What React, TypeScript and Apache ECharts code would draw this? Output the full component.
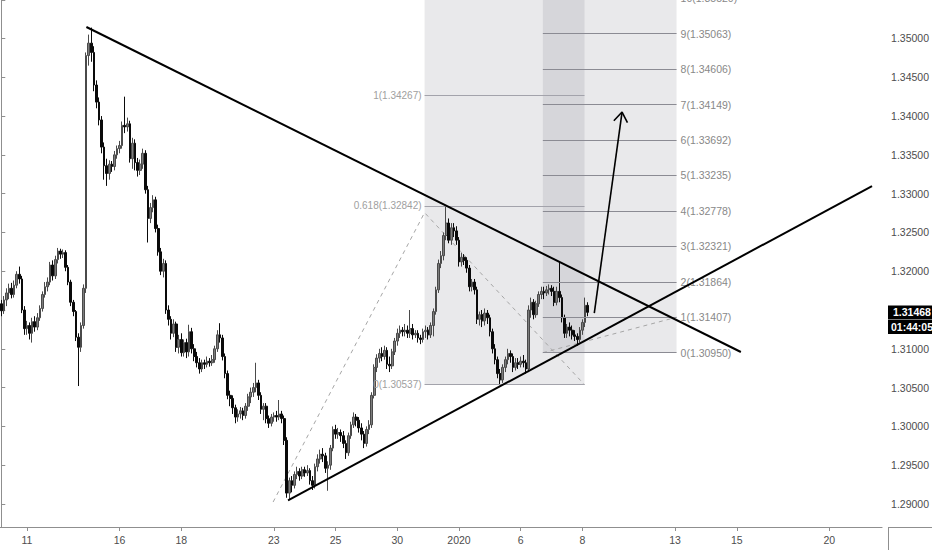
import React, { useEffect, useRef } from 'react';
import * as echarts from 'echarts';

// ---- axis set-up -------------------------------------------------------
const SLOTS = 343; // 2-hour bar slots from 10 Dec 2019 to 21 Jan 2020
const Y_MIN = 1.28703;
const Y_MAX = 1.35496;
const dayTickSlots = [10, 46, 70, 106, 130, 154, 178, 202, 226, 262, 286, 322];
const dayTickLabels = ['11', '16', '18', '23', '25', '30', '2020', '6', '8', '13', '15', '20'];

// ---- candles: [open, close, low, high] ---------------------------------
const candles: number[][] = [
  [1.3158, 1.3149, 1.3142, 1.3163], [1.3149, 1.3163, 1.3145, 1.3168], [1.3163, 1.3172, 1.3155, 1.3178],
  [1.3172, 1.3178, 1.3164, 1.3184], [1.3178, 1.3170, 1.3165, 1.3185], [1.3170, 1.3182, 1.3166, 1.3188],
  [1.3182, 1.3196, 1.3178, 1.3200], [1.3196, 1.3190, 1.3184, 1.3206], [1.3190, 1.3150, 1.3146, 1.3194],
  [1.3150, 1.3126, 1.3118, 1.3155], [1.3126, 1.3130, 1.3118, 1.3136], [1.3130, 1.3120, 1.3112, 1.3134],
  [1.3120, 1.3135, 1.3108, 1.3140], [1.3135, 1.3128, 1.3122, 1.3142], [1.3128, 1.3140, 1.3124, 1.3146],
  [1.3140, 1.3152, 1.3136, 1.3156], [1.3152, 1.3170, 1.3148, 1.3174], [1.3170, 1.3180, 1.3166, 1.3186],
  [1.3180, 1.3186, 1.3174, 1.3192], [1.3186, 1.3208, 1.3182, 1.3212], [1.3208, 1.3194, 1.3188, 1.3214],
  [1.3194, 1.3215, 1.3190, 1.3220], [1.3215, 1.3226, 1.3210, 1.3230], [1.3226, 1.3222, 1.3216, 1.3229],
  [1.3222, 1.3224, 1.3217, 1.3228], [1.3224, 1.3205, 1.3200, 1.3227], [1.3205, 1.3186, 1.3182, 1.3208],
  [1.3186, 1.3160, 1.3155, 1.3189], [1.3160, 1.3148, 1.3142, 1.3163], [1.3148, 1.3115, 1.3110, 1.3150],
  [1.3115, 1.3102, 1.3052, 1.3120], [1.3102, 1.3130, 1.3096, 1.3134], [1.3130, 1.3178, 1.3126, 1.3183],
  [1.3178, 1.3478, 1.3172, 1.3482], [1.3478, 1.3494, 1.3465, 1.3505], [1.3494, 1.3482, 1.3470, 1.3514],
  [1.3482, 1.3440, 1.3432, 1.3490], [1.3440, 1.3418, 1.3410, 1.3446], [1.3418, 1.3395, 1.3388, 1.3424],
  [1.3395, 1.3360, 1.3352, 1.3400], [1.3360, 1.3336, 1.3318, 1.3366], [1.3336, 1.3326, 1.3310, 1.3345],
  [1.3326, 1.3338, 1.3318, 1.3343], [1.3338, 1.3335, 1.3328, 1.3342], [1.3335, 1.3350, 1.3330, 1.3355],
  [1.3350, 1.3358, 1.3345, 1.3362], [1.3358, 1.3362, 1.3352, 1.3368], [1.3362, 1.3388, 1.3358, 1.3393],
  [1.3388, 1.3386, 1.3378, 1.3425], [1.3386, 1.3390, 1.3380, 1.3398], [1.3390, 1.3345, 1.3340, 1.3394],
  [1.3345, 1.3365, 1.3332, 1.3372], [1.3365, 1.3340, 1.3330, 1.3370], [1.3340, 1.3330, 1.3322, 1.3346],
  [1.3330, 1.3338, 1.3324, 1.3344], [1.3338, 1.3352, 1.3332, 1.3358], [1.3352, 1.3305, 1.3300, 1.3356],
  [1.3305, 1.3268, 1.3237, 1.3310], [1.3268, 1.3282, 1.3262, 1.3288], [1.3282, 1.3292, 1.3276, 1.3298],
  [1.3292, 1.3255, 1.3250, 1.3296], [1.3255, 1.3225, 1.3220, 1.3260], [1.3225, 1.3200, 1.3195, 1.3230],
  [1.3200, 1.3210, 1.3192, 1.3216], [1.3210, 1.3150, 1.3145, 1.3214], [1.3150, 1.3138, 1.3130, 1.3156],
  [1.3138, 1.3120, 1.3112, 1.3142], [1.3120, 1.3132, 1.3115, 1.3138], [1.3132, 1.3102, 1.3096, 1.3135],
  [1.3102, 1.3112, 1.3094, 1.3118], [1.3112, 1.3095, 1.3090, 1.3120], [1.3095, 1.3108, 1.3090, 1.3112],
  [1.3108, 1.3096, 1.3088, 1.3113], [1.3096, 1.3122, 1.3090, 1.3131], [1.3122, 1.3100, 1.3094, 1.3127],
  [1.3100, 1.3090, 1.3084, 1.3106], [1.3090, 1.3082, 1.3076, 1.3096], [1.3082, 1.3074, 1.3068, 1.3088],
  [1.3074, 1.3082, 1.3070, 1.3086], [1.3082, 1.3080, 1.3074, 1.3086], [1.3080, 1.3084, 1.3076, 1.3090],
  [1.3084, 1.3082, 1.3077, 1.3088], [1.3082, 1.3086, 1.3078, 1.3092], [1.3086, 1.3100, 1.3082, 1.3104],
  [1.3100, 1.3118, 1.3096, 1.3124], [1.3118, 1.3114, 1.3108, 1.3133], [1.3114, 1.3090, 1.3085, 1.3118],
  [1.3090, 1.3068, 1.3062, 1.3094], [1.3068, 1.3040, 1.3035, 1.3072], [1.3040, 1.3036, 1.3026, 1.3046],
  [1.3036, 1.3024, 1.3016, 1.3040], [1.3024, 1.3012, 1.3004, 1.3028], [1.3012, 1.3016, 1.3006, 1.3022],
  [1.3016, 1.3020, 1.3010, 1.3025], [1.3020, 1.3014, 1.3008, 1.3024], [1.3014, 1.3026, 1.3010, 1.3030],
  [1.3026, 1.3038, 1.3020, 1.3042], [1.3038, 1.3044, 1.3030, 1.3050], [1.3044, 1.3050, 1.3038, 1.3056],
  [1.3050, 1.3056, 1.3044, 1.3082], [1.3056, 1.3040, 1.3034, 1.3060], [1.3040, 1.3022, 1.3016, 1.3044],
  [1.3022, 1.3026, 1.3008, 1.3030], [1.3026, 1.3010, 1.3004, 1.3030], [1.3010, 1.3004, 1.2998, 1.3014],
  [1.3004, 1.3012, 1.3000, 1.3016], [1.3012, 1.3014, 1.3006, 1.3018], [1.3014, 1.3012, 1.3006, 1.3020],
  [1.3012, 1.3016, 1.3008, 1.3034], [1.3016, 1.3010, 1.3004, 1.3020], [1.3010, 1.2982, 1.2976, 1.3014],
  [1.2982, 1.2914, 1.2908, 1.2986], [1.2914, 1.2930, 1.2905, 1.2934], [1.2930, 1.2924, 1.2915, 1.2936],
  [1.2924, 1.2938, 1.2920, 1.2942], [1.2938, 1.2942, 1.2932, 1.2948], [1.2942, 1.2936, 1.2930, 1.2946],
  [1.2936, 1.2944, 1.2932, 1.2948], [1.2944, 1.2940, 1.2935, 1.2948], [1.2940, 1.2943, 1.2936, 1.2950],
  [1.2943, 1.2930, 1.2925, 1.2946], [1.2930, 1.2924, 1.2918, 1.2936], [1.2924, 1.2948, 1.2920, 1.2952],
  [1.2948, 1.2958, 1.2942, 1.2964], [1.2958, 1.2964, 1.2952, 1.2970], [1.2964, 1.2962, 1.2954, 1.2972],
  [1.2962, 1.2946, 1.2940, 1.2966], [1.2946, 1.2950, 1.2917, 1.2955], [1.2950, 1.2972, 1.2944, 1.2976],
  [1.2972, 1.2996, 1.2968, 1.3000], [1.2996, 1.2990, 1.2984, 1.3002], [1.2990, 1.2992, 1.2984, 1.2998],
  [1.2992, 1.2988, 1.2980, 1.2996], [1.2988, 1.2978, 1.2972, 1.2994], [1.2978, 1.2966, 1.2958, 1.2982],
  [1.2966, 1.2988, 1.2962, 1.2992], [1.2988, 1.3002, 1.2984, 1.3006], [1.3002, 1.3012, 1.2998, 1.3018],
  [1.3012, 1.3008, 1.3000, 1.3016], [1.3008, 1.2998, 1.2992, 1.3012], [1.2998, 1.2990, 1.2982, 1.3004],
  [1.2990, 1.2978, 1.2972, 1.2994], [1.2978, 1.2996, 1.2974, 1.3000], [1.2996, 1.3002, 1.2990, 1.3008],
  [1.3002, 1.3040, 1.2998, 1.3044], [1.3040, 1.3076, 1.3036, 1.3080], [1.3076, 1.3088, 1.3070, 1.3093],
  [1.3088, 1.3094, 1.3082, 1.3100], [1.3094, 1.3090, 1.3084, 1.3102], [1.3090, 1.3098, 1.3086, 1.3104],
  [1.3098, 1.3080, 1.3074, 1.3102], [1.3080, 1.3078, 1.3070, 1.3090], [1.3078, 1.3096, 1.3074, 1.3100],
  [1.3096, 1.3110, 1.3092, 1.3114], [1.3110, 1.3120, 1.3104, 1.3126], [1.3120, 1.3124, 1.3114, 1.3130],
  [1.3124, 1.3122, 1.3116, 1.3128], [1.3122, 1.3124, 1.3116, 1.3132], [1.3124, 1.3120, 1.3114, 1.3130],
  [1.3120, 1.3126, 1.3114, 1.3150], [1.3126, 1.3118, 1.3112, 1.3132], [1.3118, 1.3120, 1.3114, 1.3124],
  [1.3120, 1.3114, 1.3108, 1.3124], [1.3114, 1.3112, 1.3106, 1.3118], [1.3112, 1.3122, 1.3108, 1.3126],
  [1.3122, 1.3124, 1.3114, 1.3130], [1.3124, 1.3118, 1.3112, 1.3128], [1.3118, 1.3130, 1.3114, 1.3134],
  [1.3130, 1.3148, 1.3116, 1.3152], [1.3148, 1.3176, 1.3144, 1.3180], [1.3176, 1.3210, 1.3172, 1.3215],
  [1.3210, 1.3220, 1.3204, 1.3226], [1.3220, 1.3246, 1.3214, 1.3250], [1.3246, 1.3262, 1.3240, 1.3284],
  [1.3262, 1.3240, 1.3236, 1.3268], [1.3240, 1.3256, 1.3234, 1.3262], [1.3256, 1.3252, 1.3244, 1.3262],
  [1.3252, 1.3240, 1.3234, 1.3258], [1.3240, 1.3212, 1.3206, 1.3244], [1.3212, 1.3218, 1.3206, 1.3224],
  [1.3218, 1.3214, 1.3208, 1.3222], [1.3214, 1.3204, 1.3198, 1.3218], [1.3204, 1.3180, 1.3174, 1.3208],
  [1.3180, 1.3186, 1.3174, 1.3190], [1.3186, 1.3176, 1.3170, 1.3190], [1.3176, 1.3138, 1.3132, 1.3180],
  [1.3138, 1.3144, 1.3130, 1.3148], [1.3144, 1.3136, 1.3128, 1.3150], [1.3136, 1.3146, 1.3130, 1.3152],
  [1.3146, 1.3140, 1.3132, 1.3150], [1.3140, 1.3122, 1.3116, 1.3144], [1.3122, 1.3100, 1.3094, 1.3126],
  [1.3100, 1.3086, 1.3080, 1.3106], [1.3086, 1.3068, 1.3062, 1.3090], [1.3068, 1.3060, 1.3053, 1.3074],
  [1.3060, 1.3076, 1.3056, 1.3080], [1.3076, 1.3086, 1.3070, 1.3090], [1.3086, 1.3094, 1.3080, 1.3100],
  [1.3094, 1.3090, 1.3082, 1.3098], [1.3090, 1.3076, 1.3070, 1.3094], [1.3076, 1.3082, 1.3072, 1.3088],
  [1.3082, 1.3080, 1.3074, 1.3088], [1.3080, 1.3084, 1.3076, 1.3090], [1.3084, 1.3082, 1.3076, 1.3092],
  [1.3082, 1.3074, 1.3068, 1.3086], [1.3074, 1.3150, 1.3070, 1.3156], [1.3150, 1.3160, 1.3140, 1.3166],
  [1.3160, 1.3144, 1.3138, 1.3164], [1.3144, 1.3158, 1.3140, 1.3162], [1.3158, 1.3170, 1.3154, 1.3174],
  [1.3170, 1.3174, 1.3164, 1.3180], [1.3174, 1.3172, 1.3164, 1.3180], [1.3172, 1.3176, 1.3168, 1.3181],
  [1.3176, 1.3178, 1.3170, 1.3183], [1.3178, 1.3174, 1.3168, 1.3182], [1.3174, 1.3160, 1.3155, 1.3180],
  [1.3160, 1.3174, 1.3156, 1.3180], [1.3174, 1.3166, 1.3160, 1.3213], [1.3166, 1.3140, 1.3134, 1.3170],
  [1.3140, 1.3120, 1.3114, 1.3144], [1.3120, 1.3128, 1.3114, 1.3132], [1.3128, 1.3124, 1.3116, 1.3134],
  [1.3124, 1.3118, 1.3112, 1.3130], [1.3118, 1.3116, 1.3110, 1.3124], [1.3116, 1.3112, 1.3104, 1.3120],
  [1.3112, 1.3124, 1.3108, 1.3128], [1.3124, 1.3134, 1.3118, 1.3138], [1.3134, 1.3156, 1.3128, 1.3166],
  [1.3156, 1.3147, 1.3142, 1.3160],
];

const lastPrice = 1.31468;
const countdownText = '01:44:05';

// ---- drawings, in [slot, price] ------------------------------------------
const downTrendLine = [[33.1, 1.35148], [287.6, 1.30959]];
const upTrendLine = [[111.5, 1.29045], [338.6, 1.33098]];
const arrowShaft = [[230.6, 1.31461], [241.4, 1.34052]];
const arrowHead = [[238.2, 1.33939], [241.4, 1.34052], [243.5, 1.33914]];
const fibPathLeft = [[105.7, 1.29025], [164.6, 1.32755], [226.8, 1.30537]];
const fibPathRight = [[210.6, 1.3095], [262.6, 1.31407]];

const leftFibRatios = ['0', '0.618', '1'];
const leftFibPrices = [1.30537, 1.32842, 1.34267];
const leftFibSpan = [164.6, 226.8];

const rightFibRatios = ['0', '1', '2', '3', '4', '5', '6', '7', '8', '9', '10'];
const rightFibPrices = [1.3095, 1.31407, 1.31864, 1.32321, 1.32778, 1.33235, 1.33692, 1.34149, 1.34606, 1.35063, 1.3552];
const rightFibSpan = [210.6, 262.6];

const FONT = "'Liberation Sans', Arial, sans-serif";

export default function App() {
  const ref = useRef<HTMLDivElement>(null);

  useEffect(() => {
    document.body.style.margin = '0';
    const chart = echarts.init(ref.current as HTMLDivElement, null, { renderer: 'svg' });

    const categories = Array.from({ length: SLOTS }, (_, i) => String(i));
    const labelBySlot: Record<number, string> = {};
    dayTickSlots.forEach((s, i) => {
      labelBySlot[s] = dayTickLabels[i];
    });
    const isTick = (i: number) => labelBySlot[i] !== undefined;

    const lineSeries = (data: number[][], color: string, width: number, type: any, z: number, extra: any = {}) => ({
      type: 'line',
      xAxisIndex: 1,
      yAxisIndex: 0,
      data,
      symbol: 'none',
      silent: true,
      z,
      lineStyle: { color, width, type },
      ...extra,
    });

    const leftLevelLines = leftFibPrices.map((p, i) => [
      { name: `${leftFibRatios[i]}(${p.toFixed(5)})`, coord: [leftFibSpan[0], p] },
      { coord: [leftFibSpan[1], p] },
    ]);
    const rightLevelLines = rightFibPrices
      .filter((p) => p <= Y_MAX)
      .map((p, i) => [
        { name: `${rightFibRatios[i]}(${p.toFixed(5)})`, coord: [rightFibSpan[0], p] },
        { coord: [rightFibSpan[1], p] },
      ]);

    const option: any = {
      animation: false,
      backgroundColor: '#ffffff',
      grid: { left: 0, top: 0, width: 888, height: 527, containLabel: false },
      xAxis: [
        {
          type: 'category',
          data: categories,
          boundaryGap: true,
          axisLine: { show: true, lineStyle: { color: '#8f8f8f', width: 1 } },
          axisTick: { show: true, interval: (i: number) => isTick(i), alignWithLabel: true, length: 4, lineStyle: { color: '#8f8f8f' } },
          axisLabel: {
            interval: (i: number) => isTick(i),
            formatter: (v: string) => labelBySlot[Number(v)] ?? '',
            color: '#4d4d4d',
            fontSize: 10.5,
            fontFamily: FONT,
            margin: 7,
          },
          splitLine: { show: false },
        },
        { type: 'value', min: -0.5, max: SLOTS - 0.5, show: false },
      ],
      yAxis: [
        {
          type: 'value',
          position: 'right',
          min: Y_MIN,
          max: Y_MAX,
          splitNumber: 14,
          axisLine: { show: true, lineStyle: { color: '#8f8f8f', width: 1 } },
          axisTick: { show: true, length: 4, lineStyle: { color: '#8f8f8f' } },
          axisLabel: {
            formatter: (v: number) => {
              const k = v / 0.005;
              const onStep = Math.abs(k - Math.round(k)) < 1e-6;
              const underPriceTag = Math.abs(v - lastPrice) < 0.0012;
              return onStep && !underPriceTag ? v.toFixed(5) : '';
            },
            color: '#4d4d4d',
            fontSize: 10.5,
            fontFamily: FONT,
            margin: 9,
          },
          splitLine: { show: false },
        },
      ],
      series: [
        lineSeries(fibPathLeft, '#a6a6a6', 1, [4, 4], 1, {
          markArea: {
            silent: true,
            label: { show: false },
            itemStyle: { color: 'rgba(105,105,120,0.15)' },
            data: [[{ coord: [leftFibSpan[0], Y_MAX] }, { coord: [leftFibSpan[1], leftFibPrices[0]] }]],
          },
          markLine: {
            silent: true,
            symbol: ['none', 'none'],
            lineStyle: { color: '#a3a3ab', width: 1, type: 'solid' },
            label: { show: true, position: 'start', distance: 3, formatter: '{b}', color: '#a0a0a0', fontSize: 10, fontFamily: FONT },
            emphasis: { disabled: true },
            data: leftLevelLines,
          },
        }),
        lineSeries(fibPathRight, '#a6a6a6', 1, [4, 4], 1, {
          markArea: {
            silent: true,
            label: { show: false },
            itemStyle: { color: 'rgba(105,105,120,0.15)' },
            data: [[{ coord: [rightFibSpan[0], Y_MAX] }, { coord: [rightFibSpan[1], rightFibPrices[0]] }]],
          },
          markLine: {
            silent: true,
            symbol: ['none', 'none'],
            lineStyle: { color: '#8b8b93', width: 1, type: 'solid' },
            label: { show: true, position: 'end', distance: 4, formatter: '{b}', color: '#888888', fontSize: 10.5, fontFamily: FONT },
            emphasis: { disabled: true },
            data: rightLevelLines,
          },
        }),
        {
          type: 'candlestick',
          xAxisIndex: 0,
          yAxisIndex: 0,
          data: candles,
          barWidth: 2.2,
          z: 3,
          silent: true,
          itemStyle: {
            color: '#7c7c7c',
            color0: '#0a0a0a',
            borderColor: '#4a4a4a',
            borderColor0: '#0a0a0a',
            borderWidth: 1,
          },
        },
        lineSeries(downTrendLine, '#000000', 2, 'solid', 5),
        lineSeries(upTrendLine, '#000000', 2, 'solid', 5),
        lineSeries(arrowShaft, '#000000', 1.6, 'solid', 5),
        lineSeries(arrowHead, '#000000', 1.6, 'solid', 5),
      ],
    };

    chart.setOption(option);

    const yLast = chart.convertToPixel({ yAxisIndex: 0 }, lastPrice) as number;
    const yTop = chart.convertToPixel({ yAxisIndex: 0 }, rightFibPrices[10]) as number;
    const xFibEnd = chart.convertToPixel({ xAxisIndex: 1 }, rightFibSpan[1]) as number;

    chart.setOption({
      graphic: [
        { type: 'line', silent: true, z: 100, shape: { x1: 888.5, y1: 527, x2: 888.5, y2: 550 }, style: { stroke: '#8f8f8f', lineWidth: 1 } },
        { type: 'line', silent: true, z: 100, shape: { x1: 888, y1: 527.5, x2: 932, y2: 527.5 }, style: { stroke: '#8f8f8f', lineWidth: 1 } },
        { type: 'rect', silent: true, z: 100, shape: { x: 888, y: yLast - 7, width: 44, height: 14 }, style: { fill: '#000000' } },
        {
          type: 'text', silent: true, z: 101, x: 893, y: yLast,
          style: { text: lastPrice.toFixed(5), fill: '#ffffff', font: `bold 10.5px ${FONT}`, verticalAlign: 'middle', textVerticalAlign: 'middle' },
        },
        { type: 'rect', silent: true, z: 100, shape: { x: 888, y: yLast + 7.5, width: 44, height: 14 }, style: { fill: '#000000' } },
        {
          type: 'text', silent: true, z: 101, x: 891, y: yLast + 14.5,
          style: { text: countdownText, fill: '#ffffff', font: `bold 10.5px ${FONT}`, verticalAlign: 'middle', textVerticalAlign: 'middle' },
        },
        {
          type: 'text', silent: true, z: 101, x: xFibEnd + 4, y: yTop,
          style: { text: `${rightFibRatios[10]}(${rightFibPrices[10].toFixed(5)})`, fill: '#888888', font: `10.5px ${FONT}`, verticalAlign: 'middle', textVerticalAlign: 'middle' },
        },
      ],
    });

    return () => chart.dispose();
  }, []);

  return <div ref={ref} style={{ position: 'fixed', left: 0, top: 0, width: 932, height: 550, background: '#ffffff' }} />;
}
